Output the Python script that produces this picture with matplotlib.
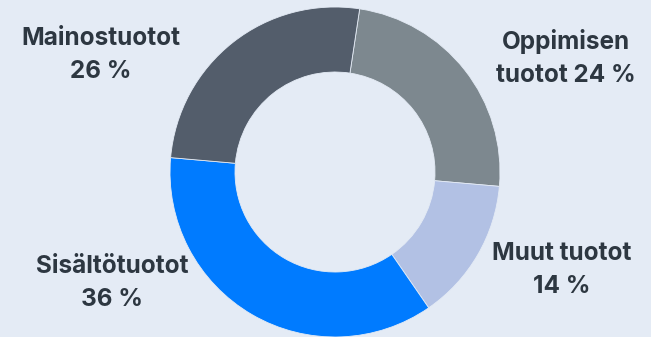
import matplotlib
matplotlib.use("Agg")
import matplotlib.pyplot as plt

# slices in clockwise order starting from the top
labels = ["Oppimisen\ntuotot 24 %", "Muut tuotot\n14 %", "Sisältötuotot\n36 %", "Mainostuotot\n26 %"]
shares = [24, 14, 36, 26]
colors = ["#7d888f", "#b2c1e4", "#007bff", "#535d6b"]
# label anchor points (pixel coords, top-left origin)
label_xy = [(566, 58), (562, 270), (112, 283), (101, 55)]

BG = "#e4ebf5"
W, H = 651, 337

fig = plt.figure(figsize=(W / 100, H / 100), dpi=100, facecolor=BG)
ax = fig.add_axes([0, 0, 1, 1])
ax.set_facecolor(BG)

ax.pie(shares, colors=colors, startangle=81.4, counterclock=False,
       center=(335, H - 172), radius=165, frame=True,
       wedgeprops=dict(width=65, edgecolor=BG, linewidth=0.6))
ax.set_xlim(0, W)
ax.set_ylim(0, H)
ax.set_aspect("equal")
ax.axis("off")

for lbl, (x, y) in zip(labels, label_xy):
    ax.text(x, H - y, lbl, ha="center", va="center", fontsize=17.5, fontweight="bold",
            family="Inter", color="#2d3741", linespacing=1.55)

fig.savefig("out.png", dpi=100, facecolor=BG)
